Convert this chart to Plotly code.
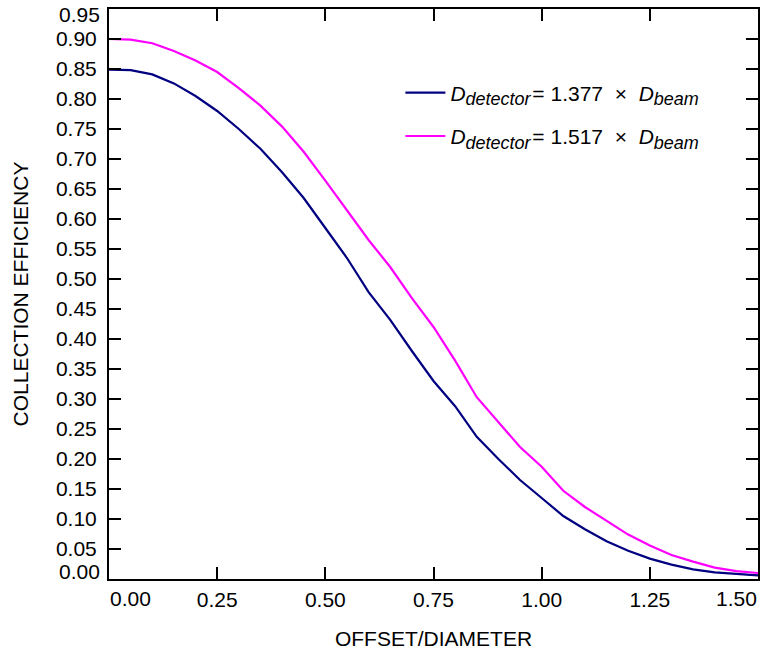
import plotly.graph_objects as go

offset = [0.00, 0.05, 0.10, 0.15, 0.20, 0.25, 0.30, 0.35, 0.40, 0.45, 0.50,
          0.55, 0.60, 0.65, 0.70, 0.75, 0.80, 0.85, 0.90, 0.95, 1.00,
          1.05, 1.10, 1.15, 1.20, 1.25, 1.30, 1.35, 1.40, 1.45, 1.50]

eff_1377 = [0.849, 0.848, 0.841, 0.826, 0.805, 0.780, 0.750, 0.717, 0.678, 0.635, 0.585,
            0.535, 0.478, 0.432, 0.380, 0.330, 0.288, 0.237, 0.200, 0.165, 0.135,
            0.105, 0.083, 0.063, 0.047, 0.034, 0.024, 0.016, 0.011, 0.008, 0.006]

eff_1517 = [0.900, 0.899, 0.893, 0.880, 0.864, 0.845, 0.818, 0.789, 0.754, 0.712, 0.664,
            0.615, 0.565, 0.520, 0.468, 0.420, 0.364, 0.303, 0.262, 0.220, 0.187,
            0.147, 0.120, 0.097, 0.074, 0.056, 0.040, 0.029, 0.019, 0.013, 0.010]

ratios = ["1.377", "1.517"]
x_ticks = [0.00, 0.25, 0.50, 0.75, 1.00, 1.25, 1.50]
y_ticks = [round(0.05 * i, 2) for i in range(20)]

FONT = "Liberation Sans, Arial, sans-serif"
FS = 21
SUB = 18


def legend_name(r):
    return (f"<i>D</i><sub><span style='font-size:{SUB}px'><i>detector</i></span></sub>"
            f"&#8202;= {r}&nbsp;&nbsp;\u00d7&nbsp;&nbsp;<i>D</i>"
            f"<sub><span style='font-size:{SUB}px'><i>beam</i></span></sub>")


fig = go.Figure()
fig.add_trace(go.Scatter(
    x=offset, y=eff_1377, mode="lines", legendgroup="a",
    line=dict(color="#000080", width=2.2), name=legend_name(ratios[0])))
fig.add_trace(go.Scatter(
    x=offset, y=eff_1517, mode="lines", legendgroup="b",
    line=dict(color="#ff00ff", width=2.2), name=legend_name(ratios[1])))

x_text = ["" if v in (x_ticks[0], x_ticks[-1]) else f"{v:.2f}" for v in x_ticks]
y_text = ["" if v in (y_ticks[0], y_ticks[-1]) else f"{v:.2f}" for v in y_ticks]

axis_common = dict(
    showline=True, linewidth=2, linecolor="black", mirror="ticks",
    ticks="inside", ticklen=12, tickwidth=1.5, tickcolor="black",
    showgrid=False, zeroline=False,
    tickfont=dict(family=FONT, size=FS, color="black"),
)

fig.update_xaxes(range=[x_ticks[0], x_ticks[-1]], tickvals=x_ticks, ticktext=x_text,
                 title=dict(text="OFFSET/DIAMETER", font=dict(family=FONT, size=FS, color="black"),
                            standoff=21),
                 ticklabelstandoff=1, **axis_common)
fig.update_yaxes(range=[y_ticks[0], y_ticks[-1]], tickvals=y_ticks, ticktext=y_text,
                 title=dict(text="COLLECTION EFFICIENCY", font=dict(family=FONT, size=FS, color="black"),
                            standoff=22),
                 ticklabelstandoff=6, **axis_common)

annos = [
    dict(x=x_ticks[0], y=0, xref="x", yref="paper", text=f"{x_ticks[0]:.2f}",
         xanchor="left", yanchor="top", yshift=-7, showarrow=False),
    dict(x=x_ticks[-1], y=0, xref="x", yref="paper", text=f"{x_ticks[-1]:.2f}",
         xanchor="right", yanchor="top", yshift=-7, showarrow=False),
    dict(x=0, y=y_ticks[-1], xref="paper", yref="y", text=f"{y_ticks[-1]:.2f}",
         xanchor="right", yanchor="top", xshift=-8, yshift=7, showarrow=False),
    dict(x=0, y=y_ticks[0], xref="paper", yref="y", text=f"{y_ticks[0]:.2f}",
         xanchor="right", yanchor="bottom", xshift=-8, yshift=-5, showarrow=False),
]
for a in annos:
    a["font"] = dict(family=FONT, size=FS, color="black")
    a["borderpad"] = 0
fig.update_layout(annotations=annos)

fig.update_layout(
    width=764, height=652,
    margin=dict(l=109, r=4, t=9, b=73),
    paper_bgcolor="white", plot_bgcolor="white",
    font=dict(family=FONT, size=FS, color="black"),
    showlegend=True,
    legend=dict(x=0.449, y=0.8885, xanchor="left", yanchor="top",
                bgcolor="rgba(0,0,0,0)", borderwidth=0,
                tracegroupgap=13, itemwidth=40,
                font=dict(family=FONT, size=FS, color="black")),
)

fig.write_html("out.html", config={"displayModeBar": False},
               post_script="document.body.style.margin='0';document.body.style.overflow='hidden';")
